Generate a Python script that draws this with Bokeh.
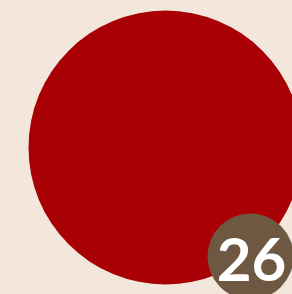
from bokeh.plotting import figure
from bokeh.models import Range1d
from bokeh.core.properties import value
from bokeh.embed import file_html
from bokeh.resources import INLINE

# data (page coordinates, y measured from top)
big_x = [165]
big_y = [147]
big_r = [137]
badge_x = [250]
badge_y = [256]
badge_r = [43]
badge_label = ["26"]

BG = "#f3e7dc"
p = figure(width=292, height=294, output_backend="svg", toolbar_location=None,
           x_range=Range1d(0, 292), y_range=Range1d(294, 0),
           background_fill_color=BG, border_fill_color=BG,
           min_border=0, outline_line_color=None)
p.axis.visible = False
p.grid.visible = False

p.circle(x=big_x, y=big_y, radius=big_r[0], fill_color="#a80005", line_color=None)
p.circle(x=badge_x, y=badge_y, radius=badge_r[0], fill_color="#6e5842", line_color=None)
p.text(x=[badge_x[0] + 1], y=[badge_y[0] + 3], text=badge_label,
       text_font=value("Lato"), text_font_style="bold", text_font_size="60px",
       text_color="white", text_align="center", text_baseline="middle")

html = file_html(p, INLINE)
html = html.replace("<head>", "<head><style>html,body{background:%s}</style>" % BG, 1)
open("out.html", "w").write(html)
